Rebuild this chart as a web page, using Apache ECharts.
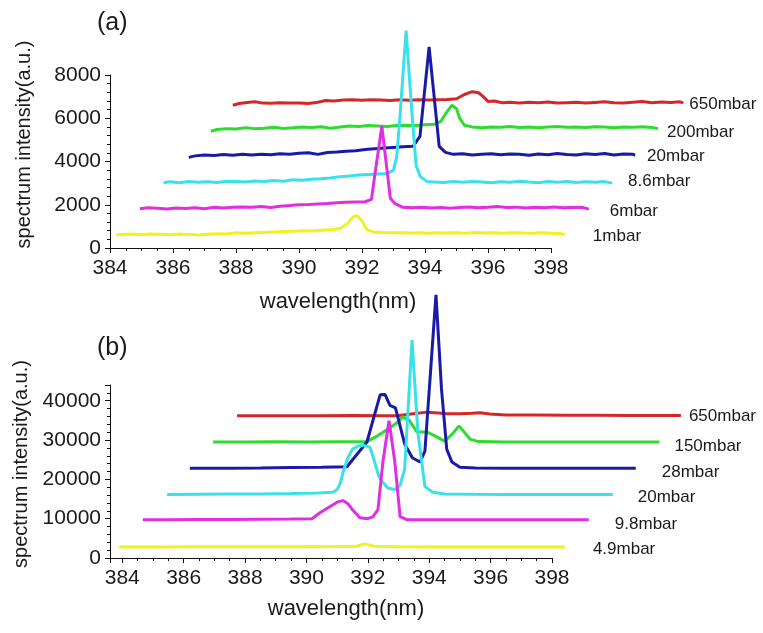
<!DOCTYPE html>
<html><head><meta charset="utf-8">
<script src="https://cdn.jsdelivr.net/npm/echarts@6/dist/echarts.min.js"></script>
<style>html,body{margin:0;padding:0;background:#fff}#c{width:763px;height:633px}</style>
</head><body><div id="c"></div>
<script>
// ---------- Panel (a) ----------
const namesA = ['650mbar','200mbar','20mbar','8.6mbar','6mbar','1mbar'];
const a650 = [[387.9,6600],[388.1,6680],[388.35,6730],[388.6,6760],[388.85,6700],[389.1,6690],[389.4,6720],[389.7,6700],[390.0,6710],[390.3,6680],[390.6,6740],[390.85,6820],[391.1,6800],[391.4,6840],[391.7,6860],[392.0,6830],[392.3,6860],[392.6,6840],[392.9,6820],[393.2,6850],[393.5,6830],[393.8,6860],[394.1,6840],[394.4,6860],[394.7,6870],[395.0,6900],[395.25,7100],[395.5,7230],[395.7,7180],[395.85,7000],[396.0,6780],[396.2,6800],[396.45,6720],[396.7,6740],[397.0,6700],[397.3,6740],[397.6,6720],[397.9,6750],[398.2,6700],[398.5,6720],[398.8,6740],[399.1,6700],[399.4,6730],[399.7,6760],[400.0,6720],[400.3,6700],[400.6,6740],[400.9,6770],[401.2,6720],[401.5,6750],[401.8,6730],[402.1,6760],[402.2,6700]];
const a200 = [[387.2,5400],[387.4,5480],[387.7,5520],[388.0,5500],[388.3,5560],[388.6,5520],[388.9,5540],[389.2,5580],[389.5,5530],[389.8,5560],[390.1,5600],[390.4,5570],[390.7,5610],[391.0,5540],[391.3,5600],[391.6,5640],[391.9,5620],[392.2,5660],[392.5,5640],[392.8,5620],[393.1,5660],[393.4,5680],[393.7,5660],[394.0,5700],[394.3,5720],[394.5,5850],[394.65,6200],[394.85,6600],[395.0,6450],[395.1,6000],[395.25,5680],[395.5,5600],[395.8,5560],[396.1,5600],[396.4,5580],[396.7,5620],[397.0,5570],[397.3,5600],[397.6,5560],[397.9,5590],[398.2,5620],[398.5,5580],[398.8,5600],[399.1,5570],[399.4,5610],[399.7,5590],[400.0,5560],[400.3,5600],[400.6,5580],[400.9,5610],[401.2,5570],[401.4,5520]];
const a20 = [[386.5,4190],[386.7,4260],[387.0,4300],[387.3,4280],[387.6,4320],[387.9,4290],[388.2,4330],[388.5,4300],[388.8,4340],[389.1,4310],[389.4,4360],[389.7,4340],[390.0,4380],[390.3,4400],[390.6,4330],[390.9,4420],[391.2,4440],[391.5,4470],[391.8,4500],[392.1,4560],[392.4,4590],[392.7,4620],[393.0,4650],[393.3,4680],[393.62,4700],[393.84,5160],[394.13,9300],[394.45,4700],[394.65,4420],[394.9,4330],[395.2,4360],[395.5,4300],[395.8,4330],[396.1,4360],[396.4,4310],[396.7,4350],[397.0,4330],[397.3,4290],[397.6,4350],[397.9,4310],[398.2,4370],[398.5,4320],[398.8,4300],[399.1,4360],[399.4,4320],[399.7,4370],[400.0,4300],[400.3,4350],[400.6,4330],[400.67,4290]];
const a86 = [[385.7,3020],[385.9,3060],[386.2,3020],[386.5,3080],[386.8,3040],[387.1,3060],[387.4,3030],[387.7,3090],[388.0,3070],[388.3,3050],[388.6,3100],[388.9,3080],[389.2,3120],[389.5,3090],[389.8,3160],[390.1,3130],[390.4,3180],[390.7,3200],[391.0,3240],[391.3,3300],[391.6,3330],[391.9,3380],[392.2,3400],[392.5,3420],[392.8,3440],[393.0,3600],[393.1,4200],[393.2,5950],[393.4,10050],[393.6,5950],[393.72,3800],[393.85,3300],[394.06,3080],[394.3,3050],[394.6,3030],[394.9,3070],[395.2,3040],[395.5,3080],[395.8,3050],[396.1,3020],[396.4,3060],[396.7,3040],[397.0,3090],[397.3,3050],[397.6,3020],[397.9,3070],[398.2,3040],[398.5,3080],[398.8,3030],[399.1,3060],[399.4,3040],[399.7,3070],[399.94,3000]];
const a6 = [[384.95,1810],[385.2,1860],[385.5,1840],[385.8,1800],[386.1,1850],[386.4,1830],[386.7,1860],[387.0,1820],[387.3,1880],[387.6,1850],[387.9,1880],[388.2,1900],[388.5,1880],[388.8,1920],[389.1,1870],[389.4,1930],[389.7,1960],[390.0,2000],[390.3,2010],[390.6,2040],[390.9,2060],[391.2,2090],[391.5,2110],[391.8,2130],[392.1,2140],[392.3,2250],[392.4,3300],[392.63,5630],[392.9,2300],[393.05,2050],[393.3,1880],[393.6,1860],[393.9,1880],[394.2,1850],[394.5,1870],[394.8,1840],[395.1,1870],[395.4,1900],[395.7,1860],[396.0,1880],[396.3,1920],[396.6,1870],[396.9,1890],[397.2,1850],[397.5,1880],[397.8,1860],[398.1,1900],[398.4,1860],[398.7,1870],[399.0,1880],[399.2,1800]];
const a1 = [[384.2,600],[384.4,630],[384.7,650],[385.0,620],[385.3,650],[385.6,640],[385.9,610],[386.2,650],[386.5,630],[386.8,600],[387.1,640],[387.4,660],[387.7,650],[388.0,700],[388.3,680],[388.6,700],[388.9,720],[389.2,740],[389.5,760],[389.8,780],[390.1,800],[390.4,790],[390.7,820],[391.0,840],[391.3,900],[391.55,1150],[391.72,1450],[391.85,1490],[392.0,1250],[392.15,850],[392.35,740],[392.6,720],[392.9,700],[393.2,710],[393.5,690],[393.8,700],[394.1,680],[394.4,710],[394.7,690],[395.0,700],[395.3,680],[395.6,720],[395.9,690],[396.2,700],[396.5,680],[396.8,710],[397.1,690],[397.4,680],[397.7,700],[398.0,680],[398.3,670],[398.44,620]];

// ---------- Panel (b) ----------
const namesB = ['650mbar','150mbar','28mbar','20mbar','9.8mbar','4.9mbar'];
const b650 = [[387.74,36150],[388.5,36200],[389.5,36150],[390.5,36200],[391.5,36250],[392.5,36200],[392.95,36200],[393.4,36600],[393.93,37100],[394.3,36900],[394.58,36700],[395.0,36700],[395.4,36800],[395.65,36950],[395.98,36600],[396.5,36400],[397.5,36350],[398.5,36300],[399.5,36300],[400.5,36250],[401.5,36250],[402.2,36250]];
const b150 = [[386.96,29500],[388,29500],[389,29550],[390,29500],[391,29550],[391.97,29600],[392.3,31000],[392.7,33000],[392.98,34600],[393.14,35900],[393.35,35000],[393.6,32050],[393.93,32050],[394.2,31000],[394.5,29740],[394.75,31500],[394.97,33600],[395.33,30250],[395.6,29600],[396.5,29500],[397.5,29500],[398.5,29500],[399.5,29500],[400.5,29500],[401.5,29500]];
const b28 = [[386.2,22800],[387.5,22850],[388.5,22900],[389.5,23000],[390.5,23100],[391.32,23200],[391.97,29500],[392.4,41500],[392.56,41600],[392.72,38800],[392.9,38200],[393.2,29000],[393.45,25500],[393.7,24400],[393.86,27200],[394.22,66900],[394.4,43000],[394.57,27700],[394.74,24400],[395.0,23100],[395.5,22900],[396.5,22800],[397.5,22800],[398.5,22800],[399.5,22800],[400.73,22800]];
const b20 = [[385.46,16150],[386.5,16200],[387.5,16250],[388.5,16300],[389.5,16400],[390.3,16500],[390.86,16700],[391.0,17400],[391.1,19000],[391.2,22000],[391.35,25500],[391.5,27700],[391.7,28500],[391.84,28700],[392.07,28200],[392.2,25000],[392.35,21000],[392.46,19500],[392.65,17800],[392.88,17400],[393.05,18500],[393.2,22600],[393.44,55400],[393.63,32000],[393.86,18200],[394.12,16700],[394.5,16300],[395.5,16200],[396.5,16150],[397.5,16150],[398.5,16150],[399.98,16150]];
const b98 = [[384.67,9740],[385.5,9760],[386.5,9780],[387.5,9800],[388.5,9850],[389.5,9900],[390.18,10000],[390.44,11500],[390.77,13100],[391.0,14200],[391.19,14600],[391.35,13800],[391.5,12300],[391.74,10250],[392.0,10000],[392.17,10500],[392.33,12300],[392.49,24400],[392.69,34900],[392.88,24400],[393.05,10500],[393.27,9740],[394,9740],[395,9740],[396,9740],[397,9740],[398,9740],[399.2,9740]];
const b49 = [[383.9,2800],[385,2820],[386,2830],[387,2850],[388,2850],[389,2870],[390,2880],[391,2900],[391.6,2950],[391.9,3600],[392.2,3000],[393,2850],[394,2820],[395,2800],[396,2800],[397,2800],[398.42,2800]];

const seriesA = [a650, a200, a20, a86, a6, a1];
const seriesB = [b650, b150, b28, b20, b98, b49];

// ---------- styles ----------
const colors = ['#d42828','#2edc2e','#1a1aa6','#3ae0ea','#e02ee0','#f0f022'];
const FONT = '"Liberation Sans", Arial, sans-serif';
const TXT = '#1a1a1a';
const labelA = {dist:[6,9,12,16,21,28], dy:[1,4,1,-2,2,2]};
const labelB = {dist:[8,15,26,25,26,28], dy:[1,4,4,3,5,2]};

const gA = {left:110, top:75, width:441, height:173};
const gB = {left:110, top:385, width:442, height:173};
const DATA_XMAX = 403;
const aXmin = 384, aXmax = 398, bXmin = 383.6, bXmax = 398;
const plain = v => String(v);

function visX(grid, min, max, extra, padL) {
  return Object.assign({
    type:'value', gridIndex:grid, min:min, max:max, z:10,
    axisLine:{show:true, onZero:false, lineStyle:{color:'#111', width:1}},
    axisTick:{show:true, length:5, lineStyle:{color:'#111'}},
    minorTick:{show:true, splitNumber:4, length:3, lineStyle:{color:'#111'}},
    splitLine:{show:false},
    axisLabel:{fontSize:21, color:TXT, fontFamily:FONT, margin:10, formatter:plain},
    name:'wavelength(nm)', nameLocation:'middle',
    nameTextStyle:{fontSize:22, color:TXT, fontFamily:FONT, padding:[0,0,0,padL]}
  }, extra);
}
function visY(grid, max, extra, padL) {
  return Object.assign({
    type:'value', gridIndex:grid, min:0, max:max, z:10,
    axisLine:{show:true, onZero:false, lineStyle:{color:'#111', width:1}},
    axisTick:{show:true, length:5, lineStyle:{color:'#111'}},
    minorTick:{show:true, splitNumber:5, length:3, lineStyle:{color:'#111'}},
    splitLine:{show:false},
    axisLabel:{fontSize:21, color:TXT, fontFamily:FONT, margin:9, formatter:plain},
    name:'spectrum intensity(a.u.)', nameLocation:'middle', nameGap:76,
    nameTextStyle:{fontSize:20, color:TXT, fontFamily:FONT, padding:[0,0,0,padL]}
  }, extra);
}
function hidden(grid, min, max) {
  return {type:'value', gridIndex:grid, min:min, max:max, show:false, splitLine:{show:false}};
}

function mkSeries(list, names, axisIdx, lab) {
  return list.map((d, i) => ({
    type:'line', name:names[i], data:d, xAxisIndex:axisIdx, yAxisIndex:axisIdx,
    symbol:'none', clip:false, animation:false, z:2,
    lineStyle:{color:colors[i], width:3},
    itemStyle:{color:colors[i]},
    areaStyle:{color:'#ffffff', opacity:1, origin:'start'},
    endLabel:{show:true, formatter:'{a}', color:TXT, fontSize:17, fontFamily:FONT,
              distance:lab.dist[i], offset:[0, lab.dy[i]]}
  }));
}

const chart = echarts.init(document.getElementById('c'));
chart.setOption({
  animation:false,
  backgroundColor:'#ffffff',
  title:[
    {text:'(a)', left:97, top:11, padding:0, textStyle:{fontSize:25, fontWeight:'normal', color:TXT, fontFamily:FONT}},
    {text:'(b)', left:97, top:336, padding:0, textStyle:{fontSize:25, fontWeight:'normal', color:TXT, fontFamily:FONT}}
  ],
  grid:[
    Object.assign({}, gA),
    {left:gA.left, top:gA.top, height:gA.height, width:gA.width*(DATA_XMAX-aXmin)/(aXmax-aXmin)},
    Object.assign({}, gB),
    {left:gB.left, top:gB.top, height:gB.height, width:gB.width*(DATA_XMAX-bXmin)/(bXmax-bXmin)}
  ],
  xAxis:[
    visX(0, aXmin, aXmax, {interval:2, nameGap:43}, 15),
    hidden(1, aXmin, DATA_XMAX),
    visX(2, bXmin, bXmax, {splitNumber:7, nameGap:40, axisLabel:{fontSize:21, color:TXT, fontFamily:FONT, margin:10, showMinLabel:false, formatter:plain}}, 30),
    hidden(3, bXmin, DATA_XMAX)
  ],
  yAxis:[
    visY(0, 8000, {interval:2000}, 34),
    hidden(1, 0, 8000),
    visY(2, 44000, {axisLabel:{fontSize:21, color:TXT, fontFamily:FONT, margin:9, showMaxLabel:false, formatter:plain}}, 15),
    hidden(3, 0, 44000)
  ],
  series: mkSeries(seriesA, namesA, 1, labelA).concat(mkSeries(seriesB, namesB, 3, labelB))
});
</script></body></html>
